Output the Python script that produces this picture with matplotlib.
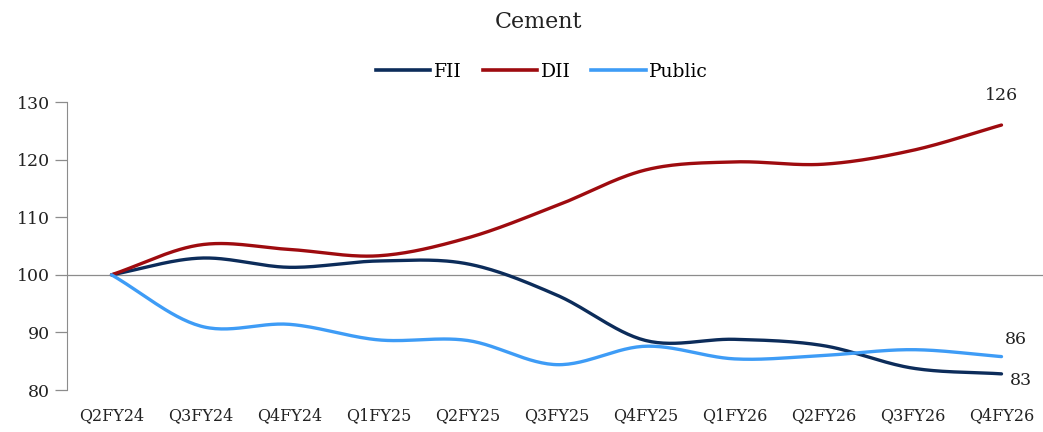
import numpy as np
import matplotlib
matplotlib.use("Agg")
import matplotlib.pyplot as plt
from matplotlib.lines import Line2D

quarters = ["Q2FY24", "Q3FY24", "Q4FY24", "Q1FY25", "Q2FY25", "Q3FY25",
            "Q4FY25", "Q1FY26", "Q2FY26", "Q3FY26", "Q4FY26"]
fii = [100, 102.9, 101.3, 102.4, 101.9, 96.5, 88.6, 88.8, 87.7, 83.8, 82.8]
dii = [100, 105.2, 104.4, 103.3, 106.4, 112.0, 118.2, 119.6, 119.2, 121.6, 126.0]
public = [100, 91.1, 91.4, 88.7, 88.6, 84.4, 87.6, 85.4, 86.0, 87.0, 85.8]

series = [("FII", fii, "#0c2c5a"), ("DII", dii, "#9e0b0f"), ("Public", public, "#3e9cf6")]

plt.rcParams['font.family'] = ['DejaVu Serif']


def smooth(xs, ys, n=30):
    xs = np.asarray(xs, float)
    ys = np.asarray(ys, float)
    px = np.concatenate([[2 * xs[0] - xs[1]], xs, [2 * xs[-1] - xs[-2]]])
    py = np.concatenate([[2 * ys[0] - ys[1]], ys, [2 * ys[-1] - ys[-2]]])
    outx, outy = [], []
    for i in range(1, len(px) - 2):
        t = np.linspace(0, 1, n, endpoint=False)
        p0, p1, p2, p3 = py[i - 1], py[i], py[i + 1], py[i + 2]
        y = 0.5 * ((2 * p1) + (-p0 + p2) * t + (2 * p0 - 5 * p1 + 4 * p2 - p3) * t ** 2
                   + (-p0 + 3 * p1 - 3 * p2 + p3) * t ** 3)
        x = px[i] + (px[i + 1] - px[i]) * t
        outx.append(x)
        outy.append(y)
    outx.append([xs[-1]])
    outy.append([ys[-1]])
    return np.concatenate(outx), np.concatenate(outy)


fig = plt.figure(figsize=(10.43, 4.32), dpi=100)
W, H = 1043, 432
ax = fig.add_axes([67 / W, (H - 390) / H, (1043 - 67) / W, (390 - 102) / H])

x = np.arange(len(quarters))
for name, vals, col in series:
    sx, sy = smooth(x, vals)
    ax.plot(sx, sy, color=col, lw=2.4, solid_capstyle='round')

ax.axhline(100, color="#8c8c8c", lw=0.9, zorder=0)
ax.set_xlim(-0.5, -0.5 + (1043 - 67) / 89.0)
ax.set_ylim(80, 130)
ax.set_yticks([80, 90, 100, 110, 120, 130])
ax.set_xticks(x)
ax.set_xticklabels(quarters)
for s in ["top", "right", "bottom"]:
    ax.spines[s].set_visible(False)
ax.spines["left"].set_color("#8c8c8c")
ax.tick_params(axis="y", colors="#8c8c8c", labelcolor="#222222", labelsize=12.5, length=9, width=0.9)
ax.tick_params(axis="x", length=0, labelsize=11.5, labelcolor="#222222", pad=12)

ax.annotate("126", (10, dii[-1]), xytext=(0, 15), textcoords="offset points",
            ha="center", va="bottom", fontsize=12.5, color="#222222")
ax.annotate("86", (10, public[-1]), xytext=(10, 6), textcoords="offset points",
            ha="center", va="bottom", fontsize=12.5, color="#222222")
ax.annotate("83", (10, fii[-1]), xytext=(14, -5), textcoords="offset points",
            ha="center", va="center", fontsize=12.5, color="#222222")

fig.text(538 / W, 1 - 22 / H, "Cement", ha="center", va="center", fontsize=16, color="#222222")
handles = [Line2D([0], [0], color=c, lw=2.6) for _, _, c in series]
fig.legend(handles, [n for n, _, _ in series], loc="center", bbox_to_anchor=(542 / W, 1 - 72 / H),
           ncol=3, frameon=False, fontsize=13.5, handlelength=2.9, handletextpad=0.2,
           columnspacing=1.1)

fig.savefig("out.png", dpi=100)
